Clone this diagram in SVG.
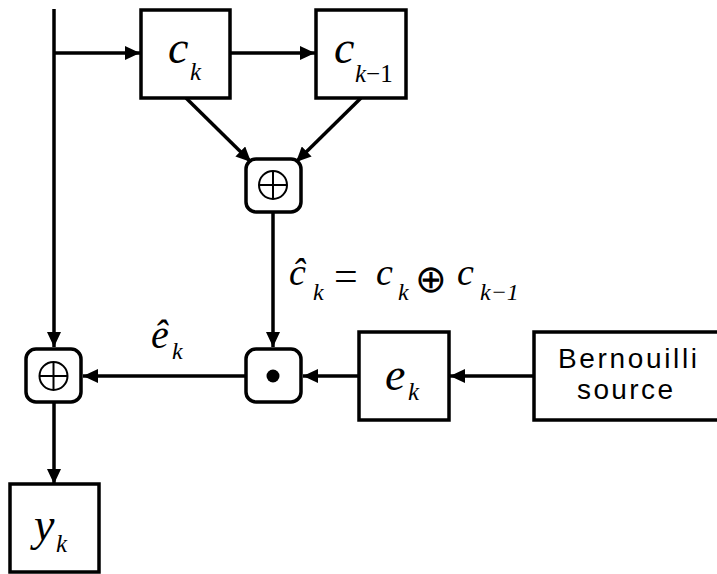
<svg xmlns="http://www.w3.org/2000/svg" width="717" height="574" viewBox="0 0 717 574">
<style>
.box{fill:#fff;stroke:#000;stroke-width:3.5}
.op{fill:#fff;stroke:#000;stroke-width:3.5}
.sym{fill:none;stroke:#000;stroke-width:2}
.ln{fill:none;stroke:#000;stroke-width:3.5}
.m{font-family:'Times New Roman','Liberation Serif','DejaVu Serif',serif;font-style:italic;fill:#000}
.n{font-family:'Times New Roman','Liberation Serif','DejaVu Serif',serif;fill:#000}
.s{font-family:'Liberation Sans',Arial,sans-serif;fill:#000;font-size:28px}
</style>
<defs>
<marker id="ah" markerUnits="userSpaceOnUse" markerWidth="16" markerHeight="14" refX="15" refY="7" orient="auto">
<path d="M0,0 L15,7 L0,14 Z" fill="#000"/>
</marker>
</defs>
<g id="connectors">
<line class="ln" x1="54" y1="9" x2="54" y2="347" marker-end="url(#ah)"/>
<line class="ln" x1="54" y1="53" x2="140" y2="53" marker-end="url(#ah)"/>
<line class="ln" x1="230" y1="53" x2="315" y2="53" marker-end="url(#ah)"/>
<line class="ln" x1="186" y1="98" x2="251" y2="162" marker-end="url(#ah)"/>
<line class="ln" x1="361" y1="98" x2="296" y2="162" marker-end="url(#ah)"/>
<line class="ln" x1="273" y1="212" x2="273" y2="347" marker-end="url(#ah)"/>
<line class="ln" x1="534" y1="376" x2="450" y2="376" marker-end="url(#ah)"/>
<line class="ln" x1="359" y1="376" x2="303" y2="376" marker-end="url(#ah)"/>
<line class="ln" x1="245" y1="376" x2="83" y2="376" marker-end="url(#ah)"/>
<line class="ln" x1="54" y1="403" x2="54" y2="484" marker-end="url(#ah)"/>
</g>
<g id="ck">
<rect class="box" x="141" y="10" width="89" height="88"/>
<text class="m" x="168" y="63" font-size="46">c</text>
<text class="m" x="190" y="80" font-size="25">k</text>
</g>
<g id="ck1">
<rect class="box" x="316" y="10" width="90" height="88"/>
<text class="m" x="334" y="63" font-size="46">c</text>
<text class="m" x="355" y="82" font-size="25">k<tspan font-style="normal">−1</tspan></text>
</g>
<g id="xor1">
<rect class="op" x="246" y="159" width="55" height="53" rx="10"/>
<circle class="sym" cx="273" cy="185" r="14"/>
<path class="sym" d="M259,185 H287 M273,171 V199"/>
</g>
<g id="mult">
<rect class="op" x="246" y="349" width="55" height="53" rx="10"/>
<circle cx="273" cy="376" r="6.5" fill="#000"/>
</g>
<g id="xor2">
<rect class="op" x="26" y="349" width="55" height="53" rx="10"/>
<circle class="sym" cx="53.5" cy="376" r="14"/>
<path class="sym" d="M39.5,376 H67.5 M53.5,362 V390"/>
</g>
<g id="ek">
<rect class="box" x="359" y="332" width="90" height="88"/>
<text class="m" x="385" y="390" font-size="46">e</text>
<text class="m" x="408" y="400" font-size="25">k</text>
</g>
<g id="bernoulli">
<rect class="box" x="534" y="332" width="190" height="88"/>
<text class="s" x="558" y="368" textLength="139" lengthAdjust="spacing">Bernouilli</text>
<text class="s" x="577" y="399" textLength="96" lengthAdjust="spacing">source</text>
</g>
<g id="yk">
<rect class="box" x="10" y="484" width="89" height="88"/>
<text class="m" x="34" y="540" font-size="46">y</text>
<text class="m" x="56" y="552" font-size="25">k</text>
</g>
<g id="labels">
<text class="m" x="289" y="285" font-size="38">ĉ</text>
<text class="m" x="313" y="300" font-size="24">k</text>
<text class="n" x="334" y="290" font-size="42">=</text>
<text class="m" x="376" y="285" font-size="38">c</text>
<text class="m" x="398" y="300" font-size="24">k</text>
<text x="415" y="292" font-size="38" font-family="DejaVu Sans, sans-serif">⊕</text>
<text class="m" x="457" y="285" font-size="38">c</text>
<text class="m" x="480" y="300" font-size="24">k−1</text>
<text class="m" x="151" y="348" font-size="40">ê</text>
<text class="m" x="172" y="359" font-size="24">k</text>
</g>
</svg>
